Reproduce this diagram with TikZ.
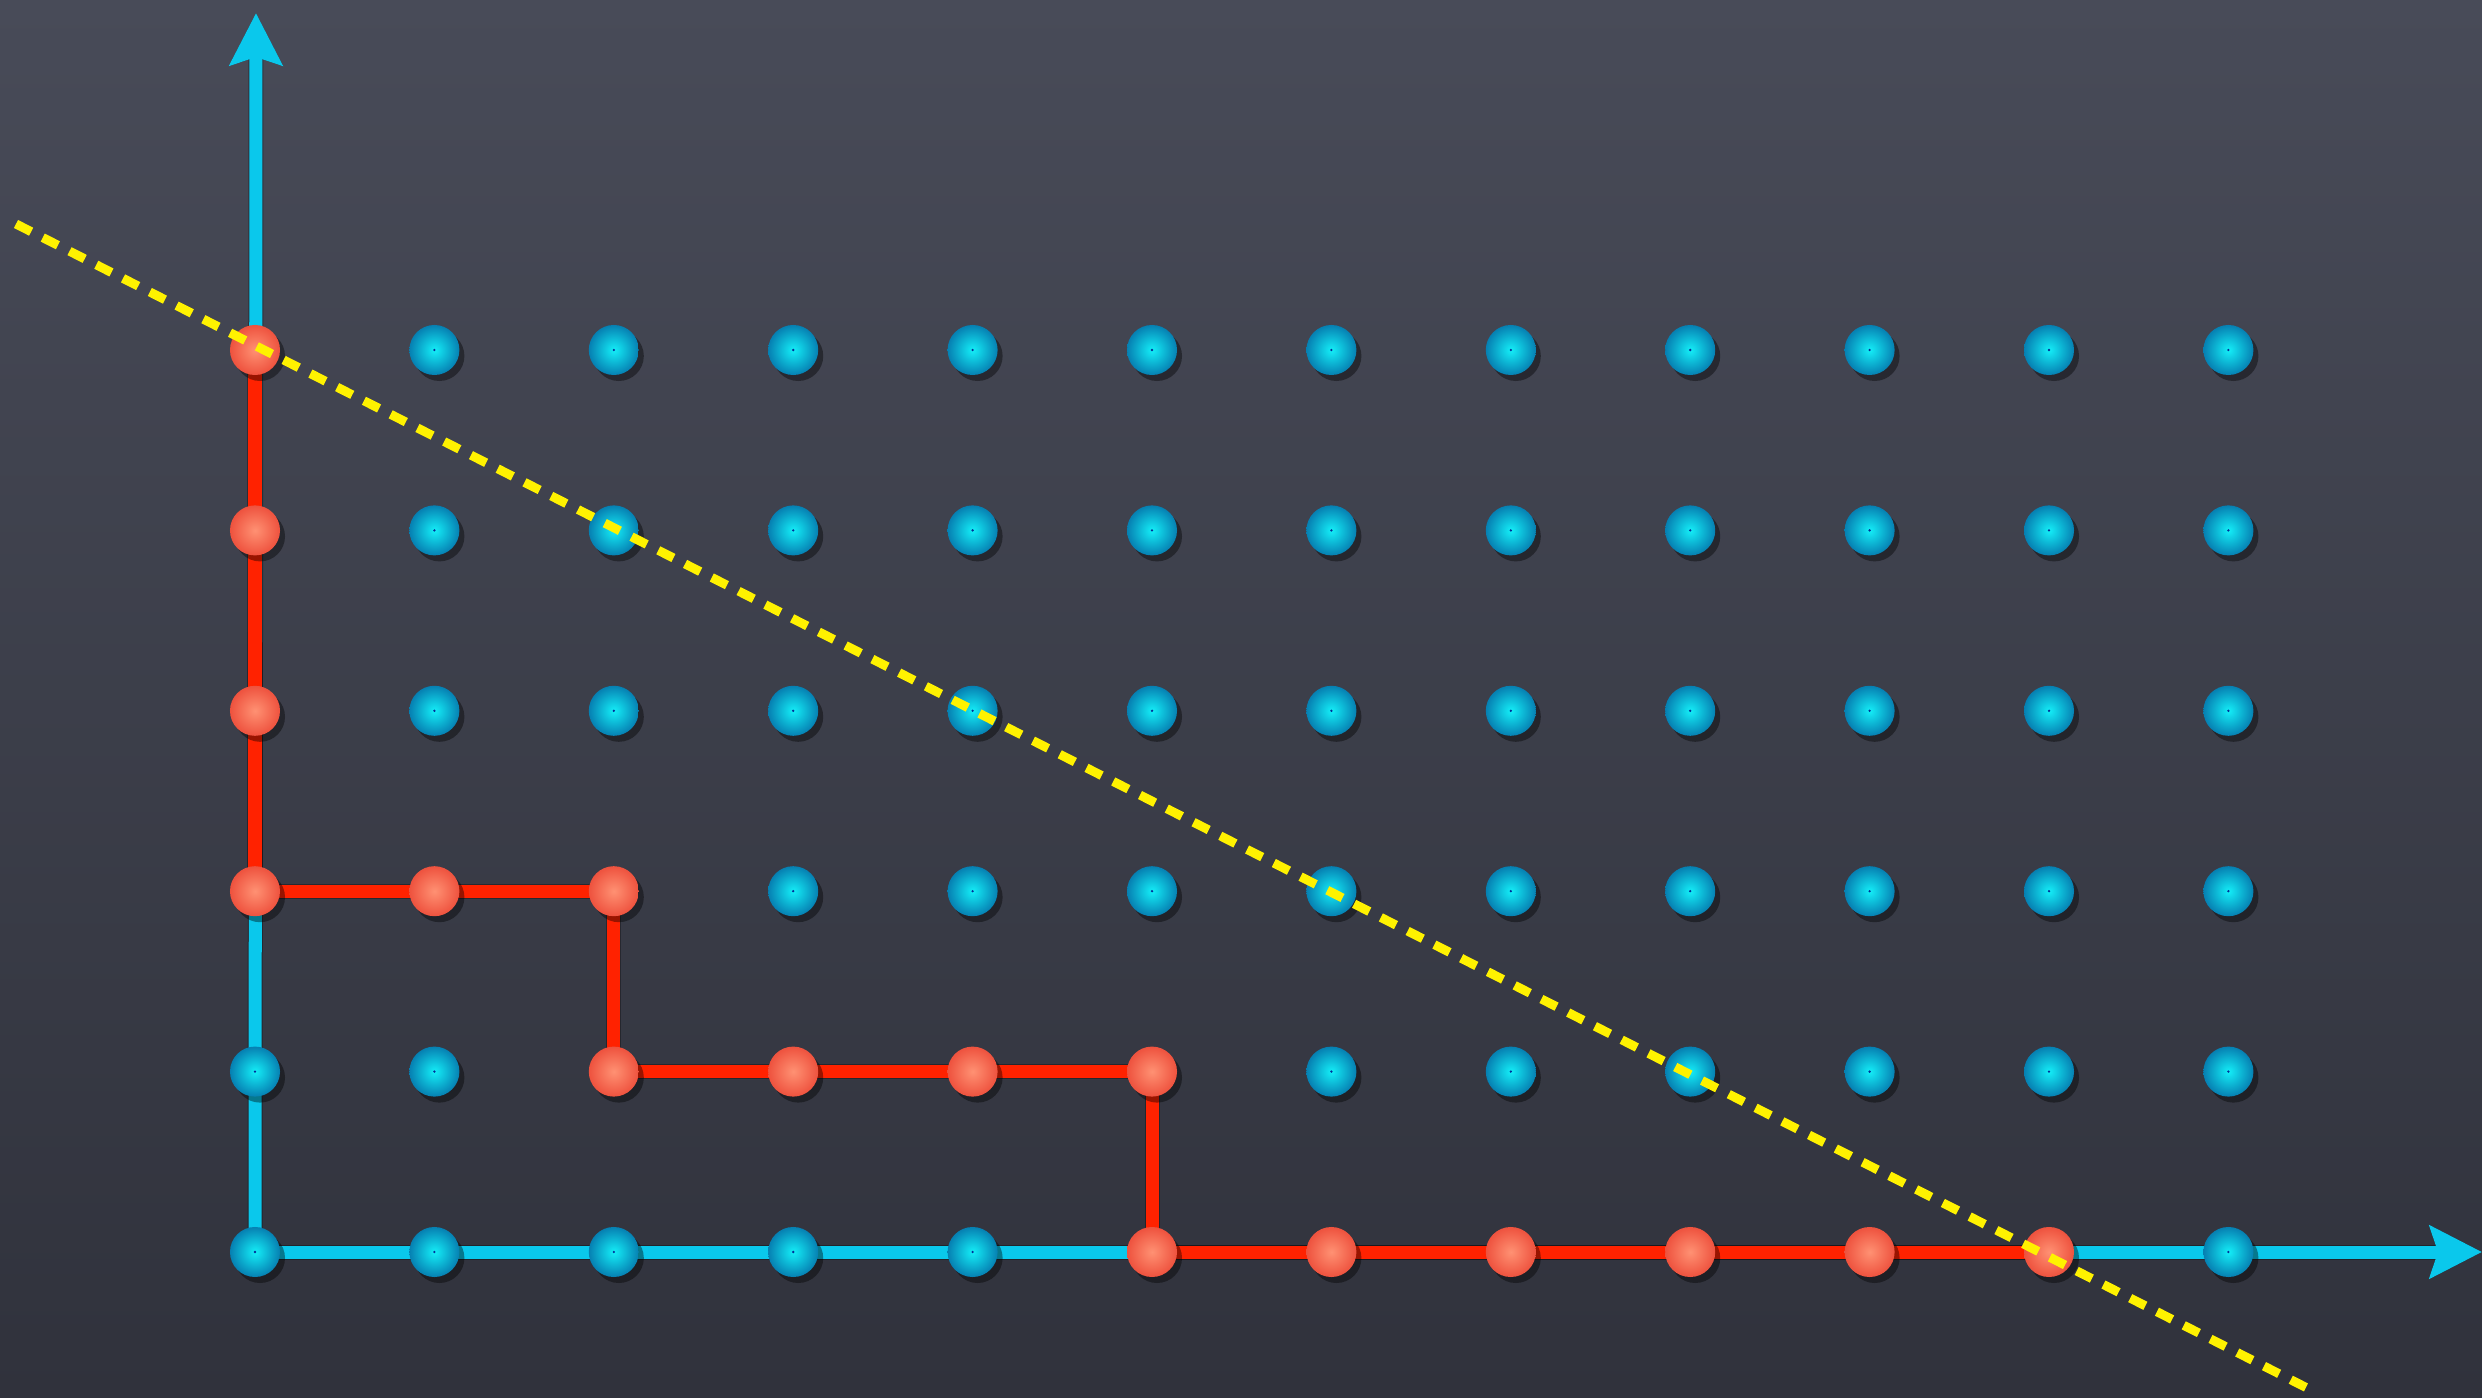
\documentclass[tikz,border=0pt]{standalone}
\usetikzlibrary{arrows.meta,shadows}
\definecolor{bgtop}{RGB}{72,75,88}
\definecolor{bgmid}{RGB}{62,65,77}
\definecolor{bgbot}{RGB}{48,50,60}
\definecolor{axiscyan}{RGB}{10,200,236}
\definecolor{pathred}{RGB}{255,34,0}
\definecolor{cyanin}{RGB}{20,238,248}
\definecolor{cyanout}{RGB}{6,128,178}
\definecolor{redin}{RGB}{255,145,115}
\definecolor{redout}{RGB}{238,82,62}
\definecolor{dashyellow}{RGB}{255,242,0}
\pgfdeclarelayer{bgl}
\pgfdeclarelayer{shadowl}
\pgfdeclarelayer{linel}
\pgfdeclarelayer{fgl}
\pgfsetlayers{bgl,shadowl,linel,main,fgl}
\tikzset{
  dotbase/.style={circle,minimum size=0.5cm,inner sep=0pt,
    drop shadow={shadow xshift=0.05cm,shadow yshift=-0.06cm,opacity=0.4,fill=black}},
  cyandot/.style={dotbase,inner color=cyanin,outer color=cyanout},
  reddot/.style={dotbase,inner color=redin,outer color=redout},
  axisline/.style={draw=axiscyan,line width=0.13cm,
    -{Stealth[length=0.52cm,width=0.52cm,inset=0.08cm,fill=axiscyan]}},
  redline/.style={draw=pathred,line width=0.13cm},
  shadowline/.style={draw=black,opacity=0.3,line width=0.15cm,xshift=0.05cm,yshift=-0.06cm},
  yline/.style={draw=dashyellow,line width=0.09cm,dash pattern=on 0.17cm off 0.13cm},
}
\begin{document}
\begin{tikzpicture}[x=0.01cm,y=-0.01cm]
\useasboundingbox (0,0) rectangle (2482,1398);
\begin{pgfonlayer}{bgl}
\shade[top color=bgtop,middle color=bgmid,bottom color=bgbot] (0,0) rectangle (2482,1398);
\end{pgfonlayer}
% grid of dots
\foreach \i in {0,...,11}{
  \foreach \j in {0,...,5}{
    \pgfmathtruncatemacro\isred{or(or(and(\i==0,\j>=2),and(\j==2,\i<=2)),or(and(\j==1,and(\i>=2,\i<=5)),and(\j==0,and(\i>=5,\i<=10))))}
    \ifnum\isred=1
      \node[reddot] (d-\i-\j) at ({255+179.4*\i},{1252-180.4*\j}) {};
    \else
      \node[cyandot] (d-\i-\j) at ({255+179.4*\i},{1252-180.4*\j}) {};
      \fill[blue!70!cyan!60!black] (d-\i-\j.center) circle (1.3);
    \fi
  }
}
\coordinate (xend) at (2482,1252);
\coordinate (yend) at (256,13);
\coordinate (ys) at (16,224);
\coordinate (ye) at (2311,1390);
\begin{pgfonlayer}{shadowl}
\draw[shadowline,-{Stealth[length=0.52cm,width=0.52cm,inset=0.08cm]}] (d-0-0.center) -- (xend);
\draw[shadowline,-{Stealth[length=0.52cm,width=0.52cm,inset=0.08cm]}] (d-0-0.center) -- (yend);
\draw[shadowline] (d-0-5.center) -- (d-0-2.center) -- (d-2-2.center) -- (d-2-1.center) -- (d-5-1.center) -- (d-5-0.center) -- (d-10-0.center);
\end{pgfonlayer}
\begin{pgfonlayer}{linel}
\draw[axisline] (d-0-0.center) -- (xend);
\draw[axisline] (d-0-0.center) -- (yend);
\draw[redline] (d-0-5.center) -- (d-0-2.center) -- (d-2-2.center) -- (d-2-1.center) -- (d-5-1.center) -- (d-5-0.center) -- (d-10-0.center);
\end{pgfonlayer}
\begin{pgfonlayer}{fgl}
\draw[yline] (ys) -- (ye);
\end{pgfonlayer}
\end{tikzpicture}
\end{document}
